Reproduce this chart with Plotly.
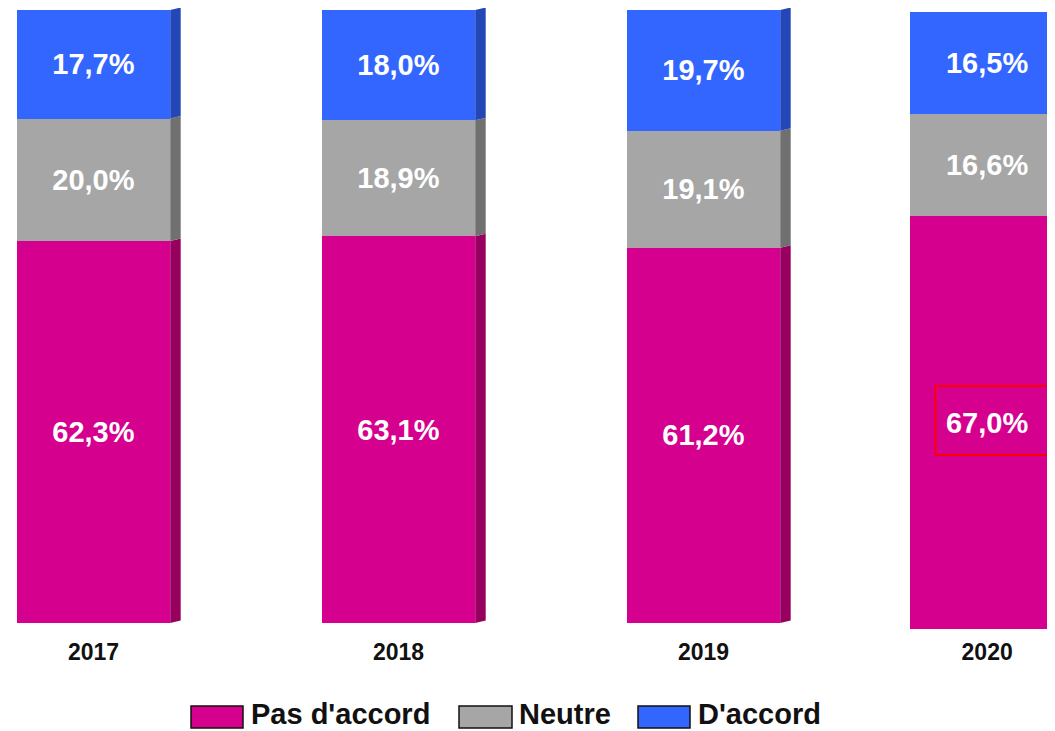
import plotly.graph_objects as go

# ---------------- data ----------------
years = ["2017", "2018", "2019", "2020"]
pas_daccord = [62.3, 63.1, 61.2, 67.0]
neutre = [20.0, 18.9, 19.1, 16.6]
daccord = [17.7, 18.0, 19.7, 16.5]
series_names = ["Pas d'accord", "Neutre", "D'accord"]

# ---------------- styles / layout ----------------
front_colors = ["#D6008F", "#A6A6A6", "#3366FF"]
side_colors = ["#98005F", "#707070", "#2447B8"]
FONT = "Liberation Sans, Arial, sans-serif"

VIEW_W, VIEW_H = 1055, 731
OFF = 8                          # page body margin of the html page
W, H = VIEW_W - OFF, VIEW_H - OFF
TOP, BOTTOM = 8, 636             # plot area (screen pixels)
X0_PX, PX_PER_X = 93.5, 305.0    # screen pixel of first bar centre, pixels per slot
x_pos = [0, 1, 2, 2.93]          # slot positions of the bars
bar_w = 153.4 / PX_PER_X
xrange = [(OFF - X0_PX) / PX_PER_X, (VIEW_W - X0_PX) / PX_PER_X]


def yrange(p0, p100):
    s = (p0 - p100) / 100.0
    return [-(BOTTOM - p0) / s, (p0 - TOP) / s], s


y1r, s1 = yrange(623, 10)        # first three bars
y2r, s2 = yrange(629.3, 12.7)    # 2020 bar (separate scale in the source)


def px_x(px):
    return (px - OFF) / W


def px_y(py):
    return (BOTTOM - py) / (BOTTOM - TOP)


values = [pas_daccord, neutre, daccord]

fig = go.Figure()
for name, vals, col in zip(series_names, values, front_colors):
    common = dict(
        name=name, marker=dict(color=col, line=dict(width=0)), width=bar_w,
        texttemplate="%{y:.1f}%", textposition="inside",
        insidetextanchor="middle", textangle=0,
        textfont=dict(color="white", size=29, family=FONT, weight="bold"),
        showlegend=False, hoverinfo="skip",
    )
    fig.add_trace(go.Bar(x=x_pos[:3], y=vals[:3], yaxis="y", **common))
    fig.add_trace(go.Bar(x=x_pos[3:], y=vals[3:], yaxis="y2", **common))

# 3-D side faces for the bars (computed from the data)
shapes = []
dx = 10.5 / PX_PER_X
for i in range(len(years)):
    yref = "y" if i < 3 else "y2"
    s = s1 if i < 3 else s2
    dy = 2.5 / s
    xr = x_pos[i] + bar_w / 2
    base = 0.0
    for vals, sc in zip(values, side_colors):
        top = base + vals[i]
        path = (f"M {xr},{base} L {xr + dx},{base + dy} "
                f"L {xr + dx},{top + dy} L {xr},{top} Z")
        shapes.append(dict(type="path", path=path, xref="x", yref=yref,
                           fillcolor=sc, line=dict(width=0), layer="above"))
        base = top

# custom legend
legend_items = [(191, 243, 249), (459, 512, 517), (638, 690, 696)]
annotations = []
for (bx0, bx1, tx), name, col in zip(legend_items, series_names, front_colors):
    shapes.append(dict(type="rect", xref="paper", yref="paper",
                       x0=px_x(bx0), x1=px_x(bx1), y0=px_y(728), y1=px_y(706),
                       fillcolor=col, line=dict(color="#111111", width=1.5)))
    annotations.append(dict(text=name, xref="paper", yref="paper",
                            x=px_x(tx), y=px_y(714), xanchor="left",
                            yanchor="middle", showarrow=False,
                            font=dict(size=29, color="#111111", family=FONT,
                                      weight="bold")))

# red highlight box around the 2020 label
shapes.append(dict(type="rect", xref="paper", yref="paper",
                   x0=px_x(935.5), x1=px_x(1062), y0=px_y(455), y1=px_y(386),
                   line=dict(color="#FF0000", width=2), fillcolor="rgba(0,0,0,0)"))

fig.update_layout(
    width=W, height=H,
    margin=dict(l=0, r=0, t=TOP - OFF, b=VIEW_H - BOTTOM, pad=0),
    paper_bgcolor="white", plot_bgcolor="white",
    barmode="stack", separators=",.",
    uniformtext=dict(mode=False),
    xaxis=dict(range=xrange, tickvals=x_pos, ticktext=years, showgrid=False,
               zeroline=False, showline=False, ticks="",
               tickfont=dict(size=23, color="#111111", family=FONT,
                             weight="bold")),
    yaxis=dict(range=y1r, visible=False, showgrid=False, zeroline=False),
    yaxis2=dict(range=y2r, visible=False, overlaying="y", showgrid=False,
                zeroline=False),
    shapes=shapes, annotations=annotations,
    font=dict(family=FONT),
)

fig.write_html("out.html")
